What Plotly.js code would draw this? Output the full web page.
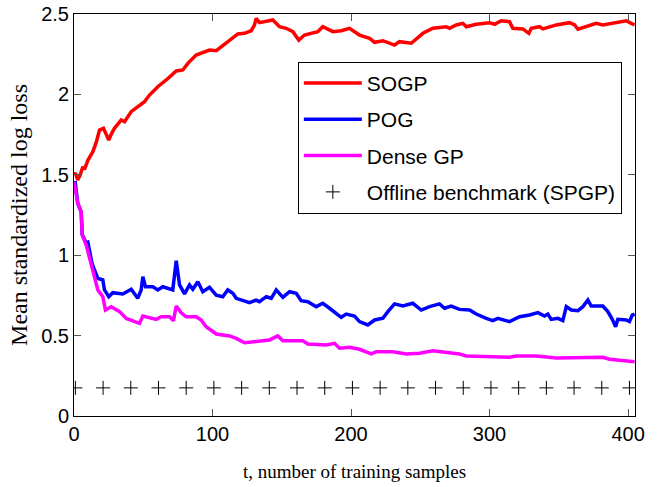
<!DOCTYPE html>
<html>
<head>
<meta charset="utf-8">
<script src="https://cdn.plot.ly/plotly-3.0.1.min.js"></script>
<style>html,body{margin:0;padding:0;background:#fff;}#chart{width:659px;height:487px;}</style>
</head>
<body>
<div id="chart"></div>
<script>
// SOGP
const sogpT = [0,1,2.7,4.5,6.4,7.6,10,13.6,16,18.4,21.3,23,25.1,27,29.2,34.1,36.5,41.3,46,50.9,54.5,60.5,66.6,73.8,78.6,82.2,88.2,91.8,97.8,102.7,109.9,118.3,123.1,127.9,130.3,131.5,133.9,138,143.5,148.4,153.2,158,162.3,166.4,176,179.6,184.5,186.9,192.9,198.9,206.1,213.4,217,223,231.4,235,243.5,248.2,251.9,259.1,268.7,271.1,276,280.7,283.2,290.4,300,303.6,308.4,314.4,316.8,324,328.4,330.1,336.1,338.5,348.2,357.8,361.4,363.8,369.8,377,381.8,389,398.7,402.3,404.7];
const sogpV = [1.50,1.51,1.468,1.50,1.55,1.534,1.59,1.644,1.70,1.778,1.789,1.76,1.716,1.755,1.789,1.841,1.83,1.893,1.925,1.955,1.996,2.048,2.09,2.146,2.152,2.193,2.245,2.256,2.276,2.272,2.318,2.376,2.38,2.396,2.431,2.473,2.446,2.452,2.463,2.421,2.411,2.39,2.338,2.369,2.39,2.421,2.4,2.39,2.396,2.411,2.369,2.349,2.324,2.334,2.307,2.328,2.318,2.349,2.38,2.411,2.421,2.411,2.432,2.442,2.421,2.436,2.446,2.436,2.458,2.452,2.411,2.407,2.38,2.411,2.421,2.407,2.432,2.446,2.432,2.405,2.421,2.442,2.432,2.442,2.458,2.442,2.432];

// POG
const pogT = [0,0.9,2.7,5.2,5.9,8.8,10,12,13,14.8,17.2,20.8,22,25.1,28,35.2,41.3,46,48.5,49.7,51.6,56.9,60.5,64.1,71.3,73.8,76.2,79.8,83.4,85.8,89.4,93,97.8,102.7,107.4,111,114.7,117.1,126.7,131.5,133.9,138.8,142.4,146,150.8,155.6,160.4,164,168.8,174.9,179.6,184.5,192.9,196.5,202.5,206.1,212.1,217,223,226.6,231.4,237.4,244.6,250.7,256.7,263.9,267.5,272.3,278.3,285.6,290.4,297.6,302.4,306,314.4,321.7,328.9,334.9,339.7,342.1,344.5,349.3,352.9,355.4,359,363.8,367.4,371,373.4,381.8,385.4,388.6,391,392.6,398.7,401,403,404.7];
const pogV = [1.45,1.451,1.323,1.27,1.13,1.075,1.08,1.0,0.95,0.908,0.856,0.846,0.784,0.742,0.767,0.759,0.788,0.732,0.784,0.866,0.804,0.804,0.784,0.804,0.784,0.966,0.815,0.759,0.815,0.788,0.835,0.773,0.8,0.752,0.742,0.784,0.763,0.732,0.705,0.721,0.711,0.742,0.732,0.784,0.738,0.773,0.763,0.717,0.711,0.68,0.701,0.67,0.614,0.634,0.622,0.587,0.566,0.597,0.608,0.649,0.697,0.684,0.701,0.659,0.68,0.697,0.67,0.684,0.663,0.659,0.634,0.607,0.593,0.607,0.587,0.617,0.628,0.643,0.622,0.634,0.601,0.607,0.593,0.68,0.659,0.655,0.68,0.721,0.684,0.684,0.649,0.601,0.555,0.601,0.597,0.587,0.628,0.634];

// Dense GP
const denseT = [0,2.7,5.2,5.9,8.8,11.2,13.6,17.2,20.8,22.7,26.9,32.9,37.7,47.3,49.7,59.4,63,69,71.8,73.8,77.4,81,88.2,91.8,95.4,102.7,112.3,117.1,123.1,131.5,141.2,147.1,150.8,165.2,168.8,182.1,188.1,191.7,198.9,206.1,214.6,218.2,230.2,239.9,249.5,259.1,268.7,278.3,283.2,295.2,314.4,319.3,333.7,348.2,367.4,381.8,386.6,398.7,404.7];
const denseV = [1.457,1.323,1.27,1.126,1.063,0.981,0.887,0.784,0.742,0.659,0.68,0.649,0.607,0.576,0.622,0.601,0.617,0.617,0.593,0.684,0.642,0.617,0.617,0.597,0.555,0.51,0.498,0.483,0.456,0.466,0.473,0.498,0.468,0.468,0.448,0.442,0.452,0.421,0.427,0.415,0.386,0.4,0.4,0.386,0.39,0.406,0.394,0.386,0.373,0.369,0.365,0.373,0.373,0.361,0.365,0.365,0.353,0.344,0.338];

// Offline benchmark (SPGP)
const benchT = [1,21,41,61,81,101,121,141,161,181,201,221,241,261,281,301,321,341,361,381,401];
const benchV = [0.175,0.175,0.175,0.175,0.175,0.175,0.175,0.175,0.175,0.175,0.175,0.175,0.175,0.175,0.175,0.175,0.175,0.175,0.175,0.175,0.175];

const xTicks = [0,100,200,300,400];
const yTicks = [0,0.5,1,1.5,2,2.5];
const yTickText = ['0','0.5','1','1.5','2','2.5'];

const sans = '"Liberation Sans", Arial, Helvetica, sans-serif';
const serif = '"Liberation Serif", "DejaVu Serif", serif';

const traces = [
  {x: sogpT, y: sogpV, name: 'SOGP', legendgroup: 'a', type: 'scatter', mode: 'lines', line: {color: '#ff0000', width: 3.5}},
  {x: pogT, y: pogV, name: 'POG', legendgroup: 'b', type: 'scatter', mode: 'lines', line: {color: '#0000ff', width: 3.5}},
  {x: denseT, y: denseV, name: 'Dense GP', legendgroup: 'c', type: 'scatter', mode: 'lines', line: {color: '#ff00ff', width: 3.5}},
  {x: benchT, y: benchV, name: 'Offline benchmark (SPGP)', legendgroup: 'd', type: 'scatter', mode: 'markers',
   marker: {symbol: 'cross-thin', size: 10, color: '#000', line: {color: '#000', width: 1}}}
];

const layout = {
  width: 659, height: 487,
  margin: {l: 74, r: 24, t: 14, b: 71},
  paper_bgcolor: '#fff', plot_bgcolor: '#fff',
  showlegend: true,
  legend: {
    x: 0.399, y: 0.881, xanchor: 'left', yanchor: 'top',
    bgcolor: '#fff', bordercolor: '#000', borderwidth: 1,
    font: {family: sans, size: 21, color: '#000'},
    itemwidth: 58, tracegroupgap: 6
  },
  xaxis: {
    range: [0, 405], tickvals: xTicks, ticks: 'inside', ticklen: 7, tickcolor: '#555',
    showline: true, linecolor: '#000', linewidth: 1, mirror: 'ticks',
    showgrid: false, zeroline: false,
    tickfont: {family: sans, size: 20, color: '#000'},
    title: {text: 't, number of training samples', font: {family: serif, size: 19, color: '#000'}, standoff: 20}
  },
  yaxis: {
    range: [0, 2.5], tickvals: yTicks, ticktext: yTickText, ticks: 'inside', ticklen: 7, tickcolor: '#555',
    showline: true, linecolor: '#000', linewidth: 1, mirror: 'ticks',
    showgrid: false, zeroline: false,
    tickfont: {family: sans, size: 20, color: '#000'},
    title: {text: 'Mean standardized log loss', font: {family: serif, size: 24, color: '#000'}, standoff: 6}
  }
};

Plotly.newPlot('chart', traces, layout, {displayModeBar: false, staticPlot: true});
</script>
</body>
</html>
